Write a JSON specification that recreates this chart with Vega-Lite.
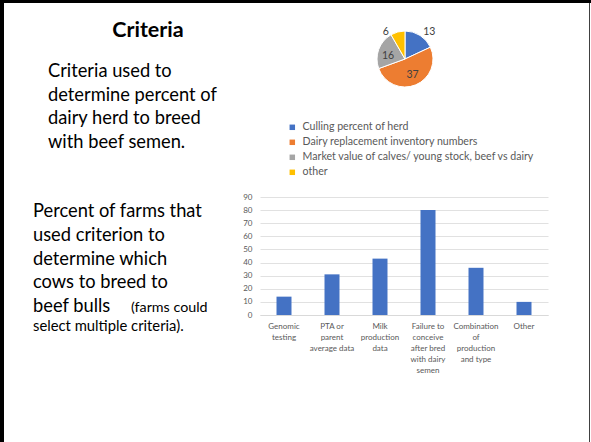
{
  "$schema": "https://vega.github.io/schema/vega-lite/v6.json",
  "padding": 0,
  "background": "white",
  "spacing": 0,
  "bounds": "flush",
  "config": {
    "view": {"stroke": null},
    "font": "Lato",
    "axis": {"labelFont": "Lato", "titleFont": "Lato"},
    "legend": {"labelFont": "Lato"},
    "text": {"font": "Lato"}
  },
  "datasets": {
    "frame": [{"part": "border"}],
    "slideText": [
      {"block": "title", "text": "Criteria"},
      {"block": "intro", "text": "Criteria used to\ndetermine percent of\ndairy herd to breed\nwith beef semen."},
      {"block": "criteria", "text": "Percent of farms that\nused criterion  to\ndetermine which\ncows to breed to\nbeef bulls"},
      {"block": "note1", "text": "(farms could"},
      {"block": "note2", "text": "select multiple criteria)."}
    ],
    "pie": [
      {"category": "Culling percent of herd", "value": 13},
      {"category": "Dairy replacement inventory numbers", "value": 37},
      {"category": "Market value of calves/ young stock, beef vs dairy", "value": 16},
      {"category": "other", "value": 6}
    ],
    "bars": [
      {"criterion": "Genomic\ntesting", "percent": 14},
      {"criterion": "PTA or\nparent\naverage data", "percent": 31},
      {"criterion": "Milk\nproduction\ndata", "percent": 43},
      {"criterion": "Failure to\nconceive\nafter bred\nwith dairy\nsemen", "percent": 80},
      {"criterion": "Combination\nof\nproduction\nand type", "percent": 36},
      {"criterion": "Other", "percent": 10}
    ]
  },
  "vconcat": [
    {
      "width": 591, "height": 3,
      "data": {"name": "frame"},
      "mark": {"type": "rect", "color": "#000000"},
      "encoding": {}
    },
    {
      "columns": 5,
      "spacing": 0,
      "bounds": "flush",
      "concat": [
        {
          "width": 4, "height": 194,
          "data": {"name": "frame"},
          "mark": {"type": "rect", "color": "#000000"},
          "encoding": {}
        },
        {
          "width": 256, "height": 194,
          "data": {"name": "slideText"},
          "layer": [
            {
              "transform": [{"filter": "datum.block === 'title'"}],
              "mark": {"type": "text", "align": "center", "baseline": "alphabetic", "fontSize": 21.5, "fontWeight": "bold", "color": "#000000"},
              "encoding": {"x": {"value": 144}, "y": {"value": 34}, "text": {"field": "text"}}
            },
            {
              "transform": [{"filter": "datum.block === 'intro'"}],
              "mark": {"type": "text", "align": "left", "baseline": "alphabetic", "fontSize": 18.3, "lineBreak": "\n", "lineHeight": 23.5, "color": "#000000"},
              "encoding": {"x": {"value": 44}, "y": {"value": 74}, "text": {"field": "text"}}
            },
            {
              "transform": [{"filter": "datum.block === 'criteria'"}],
              "mark": {"type": "text", "align": "left", "baseline": "alphabetic", "fontSize": 18.3, "lineBreak": "\n", "lineHeight": 23.8, "color": "#000000"},
              "encoding": {"x": {"value": 29}, "y": {"value": 214}, "text": {"field": "text"}}
            },
            {
              "transform": [{"filter": "datum.block === 'note1'"}],
              "mark": {"type": "text", "align": "left", "baseline": "alphabetic", "fontSize": 14.3, "color": "#000000"},
              "encoding": {"x": {"value": 127}, "y": {"value": 309}, "text": {"field": "text"}}
            },
            {
              "transform": [{"filter": "datum.block === 'note2'"}],
              "mark": {"type": "text", "align": "left", "baseline": "alphabetic", "fontSize": 14.8, "color": "#000000"},
              "encoding": {"x": {"value": 29}, "y": {"value": 328}, "text": {"field": "text"}}
            }
          ]
        },
        {
          "width": 290, "height": 112,
          "data": {"name": "pie"},
          "encoding": {
            "theta": {"field": "value", "type": "quantitative", "stack": true},
            "order": {"field": "category", "type": "ordinal", "sort": "ascending"},
            "color": {
              "field": "category", "type": "nominal",
              "scale": {
                "domain": ["Culling percent of herd", "Dairy replacement inventory numbers", "Market value of calves/ young stock, beef vs dairy", "other"],
                "range": ["#4472C4", "#ED7D31", "#A5A5A5", "#FFC000"]
              },
              "legend": {
                "title": null, "orient": "none", "legendX": 287, "legendY": 122,
                "symbolType": "square", "symbolSize": 30, "symbolStrokeWidth": 0,
                "labelFontSize": 10.6, "labelColor": "#595959", "labelOffset": 5,
                "rowPadding": 4, "padding": 0, "labelLimit": 400
              }
            }
          },
          "layer": [
            {"mark": {"type": "arc", "outerRadius": 28, "stroke": "#ffffff", "strokeWidth": 1}},
            {
              "mark": {"type": "text", "radius": 17, "fontSize": 10.5, "dx": 1, "dy": 0},
              "encoding": {
                "color": {"value": "#404040"},
                "detail": {"field": "category"},
                "text": {"condition": {"test": "datum.category === 'Dairy replacement inventory numbers'", "field": "value", "type": "quantitative"}, "value": ""}
              }
            },
            {
              "mark": {"type": "text", "radius": 17, "fontSize": 10.5, "dx": -1, "dy": 3},
              "encoding": {
                "color": {"value": "#404040"},
                "detail": {"field": "category"},
                "text": {"condition": {"test": "datum.category === 'Market value of calves/ young stock, beef vs dairy'", "field": "value", "type": "quantitative"}, "value": ""}
              }
            },
            {
              "mark": {"type": "text", "radius": 36, "fontSize": 10.5, "dx": 5, "dy": 3},
              "encoding": {
                "color": {"value": "#404040"},
                "detail": {"field": "category"},
                "text": {"condition": {"test": "datum.category === 'Culling percent of herd'", "field": "value", "type": "quantitative"}, "value": ""}
              }
            },
            {
              "mark": {"type": "text", "radius": 32, "fontSize": 10.5, "dx": -11, "dy": 4},
              "encoding": {
                "color": {"value": "#404040"},
                "detail": {"field": "category"},
                "text": {"condition": {"test": "datum.category === 'other'", "field": "value", "type": "quantitative"}, "value": ""}
              }
            }
          ]
        },
        {
          "width": 39, "height": 194,
          "data": {"name": "frame"},
          "mark": {"type": "rect", "opacity": 0},
          "encoding": {}
        },
        {
          "width": 1, "height": 194,
          "data": {"name": "frame"},
          "mark": {"type": "rect", "color": "#404040"},
          "encoding": {}
        },
        {
          "width": 4, "height": 245,
          "data": {"name": "frame"},
          "mark": {"type": "rect", "color": "#000000"},
          "encoding": {}
        },
        {
          "width": 256, "height": 245,
          "data": {"name": "frame"},
          "mark": {"type": "rect", "opacity": 0},
          "encoding": {}
        },
        {
          "width": 288, "height": 118,
          "data": {"name": "bars"},
          "mark": {"type": "bar", "color": "#4472C4"},
          "encoding": {
            "x": {
              "field": "criterion", "type": "nominal", "sort": null,
              "scale": {"paddingInner": 0.6875, "paddingOuter": 0.34375},
              "axis": {
                "title": null, "labelAngle": 0, "labelExpr": "split(datum.label, '\\n')",
                "labelFontSize": 8, "labelLineHeight": 11.2, "labelColor": "#595959",
                "labelPadding": 7, "ticks": false, "domainColor": "#D9D9D9", "labelLimit": 200
              }
            },
            "y": {
              "field": "percent", "type": "quantitative",
              "scale": {"domain": [0, 90], "nice": false},
              "axis": {
                "title": null, "values": [0, 10, 20, 30, 40, 50, 60, 70, 80, 90],
                "domain": false, "ticks": false, "gridColor": "#D9D9D9", "gridWidth": 0.8,
                "labelFontSize": 8, "labelColor": "#595959", "labelPadding": 8
              }
            }
          }
        },
        {
          "width": 39, "height": 245,
          "data": {"name": "frame"},
          "mark": {"type": "rect", "opacity": 0},
          "encoding": {}
        },
        {
          "width": 1, "height": 245,
          "data": {"name": "frame"},
          "mark": {"type": "rect", "color": "#404040"},
          "encoding": {}
        }
      ]
    }
  ]
}
